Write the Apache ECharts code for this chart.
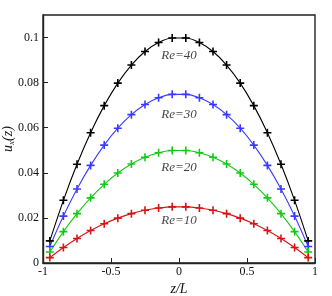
<!DOCTYPE html>
<html>
<head>
<meta charset="utf-8">
<script src="https://cdn.jsdelivr.net/npm/echarts@6/dist/echarts.min.js"></script>
<style>html,body{margin:0;padding:0;background:#fff}#c{width:332px;height:296px}</style>
</head>
<body>
<div id="c"></div>
<script>
var zPositions = [-0.95,-0.85,-0.75,-0.65,-0.55,-0.45,-0.35,-0.25,-0.15,-0.05,0.05,0.15,0.25,0.35,0.45,0.55,0.65,0.75,0.85,0.95];
var re40 = [0.0098,0.0278,0.0438,0.0578,0.0698,0.0798,0.0878,0.0938,0.0978,0.0998,0.0998,0.0978,0.0938,0.0878,0.0798,0.0698,0.0578,0.0438,0.0278,0.0098];
var re30 = [0.0073,0.0208,0.0328,0.0433,0.0523,0.0598,0.0658,0.0703,0.0733,0.0748,0.0748,0.0733,0.0703,0.0658,0.0598,0.0523,0.0433,0.0328,0.0208,0.0073];
var re20 = [0.0049,0.0139,0.0219,0.0289,0.0349,0.0399,0.0439,0.0469,0.0489,0.0499,0.0499,0.0489,0.0469,0.0439,0.0399,0.0349,0.0289,0.0219,0.0139,0.0049];
var re10 = [0.0024,0.0069,0.0109,0.0144,0.0174,0.0199,0.0219,0.0234,0.0244,0.0249,0.0249,0.0244,0.0234,0.0219,0.0199,0.0174,0.0144,0.0109,0.0069,0.0024];
var seriesNames = ['Re=40','Re=30','Re=20','Re=10'];
var labelX = [0,0,0,0];
var labelY = [0.092,0.0658,0.0422,0.0187];
var xTicks = [-1,-0.5,0,0.5,1];
var yTicks = [0,0.02,0.04,0.06,0.08,0.1];

var colors = ['#000000','#3a3aff','#16c816','#d81414'];
var plus = 'path://M3.2,0H4.8V3.2H8V4.8H4.8V8H3.2V4.8H0V3.2H3.2Z';
var serif = '"Liberation Serif","DejaVu Serif",serif';

function pairs(ys){ return zPositions.map(function(z,i){ return [z, ys[i]]; }); }
var all = [re40,re30,re20,re10];
var series = all.map(function(ys,k){
  return {
    type:'line', data:pairs(ys), smooth:0.3,
    symbol:plus, symbolSize:8, showSymbol:true,
    lineStyle:{color:colors[k], width:1.1},
    itemStyle:{color:colors[k]},
    animation:false, z:3
  };
});
series.push({
  type:'scatter', symbolSize:0, silent:true, animation:false,
  data: seriesNames.map(function(n,i){ return {value:[labelX[i],labelY[i]], name:n}; }),
  label:{show:true, position:'inside', formatter:'{b}', color:'#111', fontFamily:serif, fontStyle:'italic', fontSize:13}
});

var chart = echarts.init(document.getElementById('c'), null, {renderer:'canvas'});
chart.setOption({
  backgroundColor:'#fff',
  animation:false,
  grid:{left:43, right:17, top:15, bottom:33, containLabel:false, outerBoundsMode:'none', show:true, borderColor:'#222', borderWidth:1.4, backgroundColor:'transparent'},
  xAxis:{
    type:'value', min:-1, max:1, interval:0.5,
    name:'z/L', nameLocation:'middle', nameGap:19, nameMoveOverlap:false,
    nameTextStyle:{fontFamily:serif, fontStyle:'italic', fontSize:14, color:'#111'},
    axisLine:{show:true, onZero:false, lineStyle:{color:'#222', width:1.4}},
    axisTick:{show:true, inside:true, length:5, lineStyle:{color:'#222'}},
    axisLabel:{fontFamily:serif, fontSize:12, color:'#111', margin:3,
      customValues:xTicks, formatter:function(v){return String(v);}},
    splitLine:{show:false}
  },
  yAxis:{
    type:'value', min:0, max:0.11,
    name:'{i|u}{s|x}{i|(z)}', nameLocation:'middle', nameGap:27, nameRotate:90, nameMoveOverlap:false,
    nameTextStyle:{fontFamily:serif, color:'#111', rich:{
      i:{fontFamily:serif, fontStyle:'italic', fontSize:14, color:'#111'},
      s:{fontFamily:serif, fontStyle:'italic', fontSize:9, color:'#111', verticalAlign:'bottom', padding:[6,0,0,0]}
    }},
    axisLine:{show:true, onZero:false, lineStyle:{color:'#222', width:1.4}},
    axisTick:{show:true, inside:true, length:5, customValues:yTicks, lineStyle:{color:'#222'}},
    axisLabel:{fontFamily:serif, fontSize:12, color:'#111', margin:4,
      customValues:yTicks, formatter:function(v){return String(v);}},
    splitLine:{show:false}
  },
  series:series
});
</script>
</body>
</html>
